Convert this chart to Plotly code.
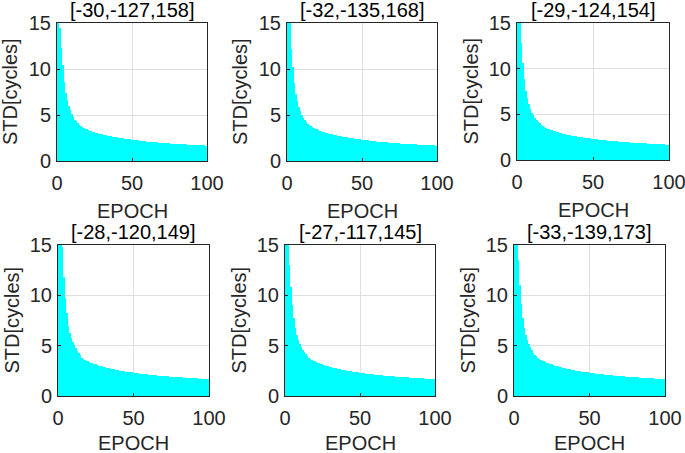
import plotly.graph_objects as go

W, H = 685, 453

epochs = list(range(1, 101))

titles = ["[-30,-127,158]", "[-32,-135,168]", "[-29,-124,154]",
          "[-28,-120,149]", "[-27,-117,145]", "[-33,-139,173]"]

# first 15 epochs, read per panel
head1 = [17.0, 14.5, 12.3, 10.4, 8.6, 7.4, 6.6, 6.0, 5.5, 5.1, 4.8, 4.5, 4.3, 4.1, 3.95]
head2 = [17.0, 15.0, 12.2, 10.2, 8.5, 7.3, 6.5, 5.9, 5.4, 5.0, 4.7, 4.45, 4.25, 4.05, 3.9]
head3 = [17.0, 15.0, 12.8, 10.6, 8.9, 7.6, 6.8, 6.1, 5.6, 5.2, 4.9, 4.6, 4.35, 4.15, 4.0]
head4 = [17.0, 15.5, 14.8, 11.8, 9.7, 8.2, 7.0, 6.3, 5.8, 5.4, 5.1, 4.8, 4.5, 4.3, 4.1]
head5 = [17.0, 15.0, 13.0, 10.8, 9.0, 7.7, 6.8, 6.1, 5.6, 5.2, 4.9, 4.6, 4.35, 4.15, 4.0]
head6 = [17.0, 15.2, 13.5, 11.0, 9.1, 7.7, 6.8, 6.1, 5.6, 5.2, 4.85, 4.55, 4.3, 4.1, 3.95]

# epochs 16..100 (curves are nearly identical across panels)
tail = [3.82, 3.71, 3.61, 3.52, 3.44, 3.37, 3.30, 3.24, 3.18, 3.13,
        3.08, 3.03, 2.98, 2.94, 2.90, 2.86, 2.82, 2.78, 2.75, 2.71,
        2.68, 2.65, 2.62, 2.59, 2.56, 2.53, 2.50, 2.48, 2.45, 2.43,
        2.40, 2.38, 2.36, 2.34, 2.31, 2.29, 2.27, 2.25, 2.23, 2.21,
        2.19, 2.17, 2.16, 2.14, 2.12, 2.11, 2.09, 2.08, 2.06, 2.05,
        2.03, 2.02, 2.00, 1.99, 1.98, 1.96, 1.95, 1.94, 1.93, 1.91,
        1.90, 1.89, 1.88, 1.87, 1.86, 1.85, 1.84, 1.83, 1.82, 1.81,
        1.80, 1.79, 1.78, 1.77, 1.76, 1.75, 1.74, 1.73, 1.72, 1.72,
        1.71, 1.70, 1.69, 1.68, 1.67]

series = [head1 + tail, head2 + tail, head3 + tail,
          head4 + tail, head5 + tail, head6 + tail]

x_ticks = [0, 50, 100]
y_ticks = [0, 5, 10, 15]

# panel boxes in window pixels: (left, right, top, bottom)
boxes = [(57, 207, 23, 161), (287, 437, 23, 161), (517, 669, 23, 160),
         (58, 209, 245, 396), (285, 435, 245, 396), (514, 665, 245, 396)]
# distance of the x-axis label below each panel
xlabel_gap = [50, 50, 50, 47, 47, 47]

FONT = "Liberation Sans, Arial, sans-serif"
AX = "#262626"
GRID = "#dfdfdf"


def px(x):
    return x / W


def py(y):
    return 1 - y / H


fig = go.Figure()
annotations = []
for i, (vals, title, (l, r, t, b), gap) in enumerate(
        zip(series, titles, boxes, xlabel_gap)):
    n = i + 1
    xa = "x" if n == 1 else f"x{n}"
    ya = "y" if n == 1 else f"y{n}"
    fig.add_trace(go.Bar(x=epochs, y=vals, xaxis=xa, yaxis=ya,
                         marker=dict(color="#00FFFF", line=dict(width=0)),
                         showlegend=False))
    common = dict(showline=True, linecolor=AX, linewidth=1, mirror=True,
                  ticks="inside", ticklen=3, tickcolor=AX,
                  showgrid=True, gridcolor=GRID, gridwidth=1, zeroline=False,
                  tickfont=dict(family=FONT, size=20, color=AX), fixedrange=True,
                  automargin=False, ticklabeloverflow="allow")
    fig.layout[f"xaxis{n if n > 1 else ''}"] = dict(
        domain=[px(l), px(r)], range=[0, 100], tickvals=x_ticks,
        anchor=ya, ticklabelstandoff=4, **common)
    fig.layout[f"yaxis{n if n > 1 else ''}"] = dict(
        domain=[py(b), py(t)], range=[0, 15], tickvals=y_ticks,
        anchor=xa, ticklabelstandoff=1, **common)
    cx = (l + r) / 2
    annotations.append(dict(text=title, x=px(cx), y=py(t - 13),
                            xref="paper", yref="paper", xanchor="center",
                            yanchor="middle", showarrow=False,
                            font=dict(family=FONT, size=20, color="#000000")))
    annotations.append(dict(text="EPOCH", x=px(cx), y=py(b + gap),
                            xref="paper", yref="paper", xanchor="center",
                            yanchor="middle", showarrow=False,
                            font=dict(family=FONT, size=20, color=AX)))
    annotations.append(dict(text="STD[cycles]", x=px(l - 47),
                            y=py((t + b) / 2),
                            xref="paper", yref="paper", xanchor="center",
                            yanchor="middle", showarrow=False, textangle=-90,
                            font=dict(family=FONT, size=20, color=AX)))

fig.update_layout(width=W, height=H,
                  margin=dict(l=0, r=0, t=0, b=0, pad=0, autoexpand=False),
                  paper_bgcolor="white", plot_bgcolor="white",
                  bargap=0, annotations=annotations)

fig.write_html("out.html", config={"displayModeBar": False},
               post_script="document.body.style.margin='0';"
                           "document.body.style.overflow='hidden';")
